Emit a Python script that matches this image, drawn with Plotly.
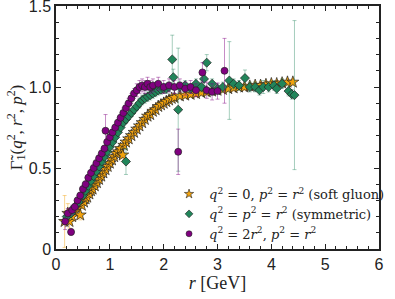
import plotly.graph_objects as go

# ---- Data ----
soft_r = [0.16, 0.22, 0.25, 0.30, 0.35, 0.40, 0.45, 0.48, 0.52, 0.55, 0.58, 0.62, 0.65, 0.68,
          0.72, 0.76, 0.80, 0.84, 0.88, 0.92, 0.96, 1.00, 1.04, 1.08, 1.12, 1.16, 1.20, 1.24,
          1.26, 1.30, 1.35, 1.40, 1.45, 1.50, 1.55, 1.60, 1.65, 1.70, 1.75, 1.80, 1.85, 1.90,
          1.95, 2.00, 2.05, 2.10, 2.15, 2.20, 2.30, 2.40, 2.50, 2.60, 2.70, 2.80, 2.90, 3.00,
          3.10, 3.20, 3.30, 3.40, 3.50, 3.60, 3.70, 3.80, 3.90, 4.00, 4.10, 4.20, 4.30, 4.40]
soft_v = [0.17, 0.22, 0.17, 0.20, 0.23, 0.25, 0.21, 0.27, 0.29, 0.31, 0.32, 0.34, 0.36, 0.37,
          0.39, 0.41, 0.43, 0.45, 0.47, 0.49, 0.51, 0.53, 0.55, 0.57, 0.59, 0.60, 0.62, 0.58,
          0.64, 0.66, 0.68, 0.70, 0.72, 0.74, 0.76, 0.78, 0.80, 0.82, 0.83, 0.85, 0.86, 0.88,
          0.89, 0.90, 0.91, 0.92, 0.93, 0.935, 0.945, 0.95, 0.955, 0.96, 0.965, 0.97, 0.975, 0.98,
          0.985, 0.99, 0.995, 1.00, 1.00, 1.005, 1.01, 1.01, 1.015, 1.02, 1.02, 1.025, 1.03, 1.03]
soft_e = [0.16, 0.06, 0.04, 0.03, 0.03, 0.02, 0.03, 0.02, 0.02, 0.02, 0.02, 0.02, 0.02, 0.02,
          0.02, 0.02, 0.02, 0.02, 0.02, 0.02, 0.02, 0.02, 0.02, 0.02, 0.02, 0.02, 0.02, 0.04,
          0.02, 0.02, 0.02, 0.02, 0.02, 0.02, 0.02, 0.02, 0.02, 0.02, 0.02, 0.02, 0.02, 0.02,
          0.02, 0.02, 0.02, 0.02, 0.02, 0.02, 0.02, 0.02, 0.02, 0.02, 0.02, 0.02, 0.02, 0.02,
          0.02, 0.02, 0.02, 0.02, 0.02, 0.02, 0.02, 0.02, 0.02, 0.02, 0.02, 0.02, 0.02, 0.02]

sym_r = [0.20, 0.28, 0.35, 0.42, 0.50, 0.55, 0.60, 0.65, 0.70, 0.75, 0.80, 0.85, 0.90, 0.95,
         1.00, 1.05, 1.10, 1.15, 1.20, 1.25, 1.30, 1.30, 1.35, 1.40, 1.45, 1.50, 1.55, 1.60,
         1.65, 1.70, 1.75, 1.80, 1.85, 1.90, 1.95, 2.00, 2.05, 2.10, 2.16, 2.18, 2.27, 2.30,
         2.40, 2.50, 2.60, 2.70, 2.75, 2.80, 2.90, 3.00, 3.10, 3.22, 3.30, 3.40, 3.51, 3.60,
         3.70, 3.78, 3.85, 3.95, 4.05, 4.10, 4.20, 4.32, 4.38, 4.43]
sym_v = [0.20, 0.22, 0.26, 0.29, 0.33, 0.36, 0.39, 0.42, 0.45, 0.48, 0.51, 0.54, 0.57, 0.60,
         0.63, 0.66, 0.69, 0.72, 0.75, 0.78, 0.54, 0.80, 0.82, 0.84, 0.86, 0.88, 0.90, 0.92,
         0.93, 0.94, 0.95, 0.96, 0.97, 0.98, 0.985, 0.99, 0.99, 1.00, 1.17, 1.06, 0.86, 1.00,
         1.01, 0.99, 1.02, 1.00, 1.05, 1.15, 1.02, 0.99, 1.00, 1.04, 1.02, 1.01, 1.055, 1.00,
         1.00, 0.98, 1.00, 1.00, 1.01, 0.99, 1.02, 0.975, 0.955, 0.95]
sym_e = [0.03, 0.03, 0.02, 0.02, 0.02, 0.02, 0.02, 0.02, 0.02, 0.02, 0.02, 0.02, 0.02, 0.02,
         0.02, 0.02, 0.02, 0.02, 0.02, 0.02, 0.08, 0.02, 0.02, 0.02, 0.02, 0.02, 0.03, 0.03,
         0.03, 0.03, 0.03, 0.03, 0.03, 0.03, 0.03, 0.03, 0.03, 0.03, 0.15, 0.05, 0.38, 0.03,
         0.03, 0.03, 0.03, 0.03, 0.04, 0.05, 0.03, 0.03, 0.03, 0.24, 0.03, 0.03, 0.05, 0.03,
         0.03, 0.03, 0.04, 0.03, 0.03, 0.03, 0.03, 0.03, 0.03, 0.46]

asym_r = [0.17, 0.22, 0.28, 0.30, 0.35, 0.40, 0.45, 0.50, 0.55, 0.60, 0.65, 0.70, 0.75, 0.80,
          0.85, 0.90, 0.92, 0.95, 1.00, 1.05, 1.10, 1.15, 1.20, 1.25, 1.30, 1.35, 1.40, 1.45,
          1.50, 1.55, 1.60, 1.65, 1.70, 1.75, 1.80, 1.90, 2.00, 2.10, 2.20, 2.27, 2.30, 2.40,
          2.50, 2.60, 2.72, 2.80, 2.90, 3.00, 3.13]
asym_v = [0.17, 0.22, 0.105, 0.24, 0.26, 0.30, 0.33, 0.37, 0.40, 0.44, 0.47, 0.50, 0.53, 0.56,
          0.59, 0.62, 0.73, 0.66, 0.69, 0.72, 0.75, 0.78, 0.81, 0.84, 0.87, 0.90, 0.93, 0.96,
          0.98, 1.00, 1.01, 1.00, 1.02, 1.00, 1.01, 1.02, 1.00, 1.01, 1.00, 0.60, 1.01, 0.99,
          1.00, 0.98, 1.09, 0.98, 0.97, 0.975, 1.10]
asym_e = [0.05, 0.03, 0.02, 0.03, 0.02, 0.02, 0.02, 0.02, 0.02, 0.02, 0.02, 0.02, 0.02, 0.02,
          0.02, 0.02, 0.10, 0.02, 0.02, 0.02, 0.02, 0.02, 0.02, 0.03, 0.03, 0.03, 0.03, 0.03,
          0.04, 0.04, 0.04, 0.04, 0.04, 0.04, 0.04, 0.04, 0.04, 0.04, 0.04, 0.14, 0.04, 0.04,
          0.04, 0.04, 0.06, 0.05, 0.05, 0.05, 0.20]

x_ticks = [0, 1, 2, 3, 4, 5, 6]
y_ticks = [0, 0.5, 1.0, 1.5]
y_ticktext = ["0", "0.5", "1.0", "1.5"]

names = [
    "<i>q</i><sup>2</sup> = 0, <i>p</i><sup>2</sup> = <i>r</i><sup>2</sup> (soft gluon)",
    "<i>q</i><sup>2</sup> = <i>p</i><sup>2</sup> = <i>r</i><sup>2</sup> (symmetric)",
    "<i>q</i><sup>2</sup> = 2<i>r</i><sup>2</sup>, <i>p</i><sup>2</sup> = <i>r</i><sup>2</sup>",
]

ORANGE = "#F2A20D"
GREEN = "#21855A"
PURPLE = "#800080"

fig = go.Figure()
series = [
    (soft_r, soft_v, soft_e, "star", 9, ORANGE, "rgba(242,162,13,0.45)"),
    (sym_r, sym_v, sym_e, "diamond", 7, GREEN, "rgba(33,133,90,0.4)"),
    (asym_r, asym_v, asym_e, "circle", 7, PURPLE, "rgba(128,0,128,0.45)"),
]
for (xr, yv, ye, sym, sz, col, ecol) in series:
    fig.add_trace(go.Scatter(
        x=xr, y=yv, mode="markers", showlegend=False,
        error_y=dict(type="data", array=ye, color=ecol, thickness=1, width=2),
        marker=dict(symbol=sym, size=sz, color=col, line=dict(color="#222", width=0.7)),
    ))
# legend entries (small symbols as in the reference)
for (xr, yv, ye, sym, sz, col, ecol), nm in zip(series, names):
    fig.add_trace(go.Scatter(
        x=[None], y=[None], mode="markers", name=nm,
        marker=dict(symbol=sym, size=6 if sym != "star" else 7, color=col, line=dict(color="#222", width=0.6)),
    ))

axis_common = dict(
    showline=True, linecolor="#222", linewidth=1.5, mirror="allticks",
    ticks="inside", ticklen=5, tickcolor="#222", tickwidth=1,
    showgrid=False, zeroline=False, automargin=False, ticklabeloverflow="allow",
    tickfont=dict(family="Liberation Sans, Arial, sans-serif", size=16, color="#222"),
)

fig.update_xaxes(
    range=[0, 6], tickmode="array", tickvals=x_ticks,
    minor=dict(ticks="inside", dtick=0.2, ticklen=3, tickcolor="#222", showgrid=False),
    title=dict(text="<i>r</i> [GeV]", font=dict(family="Liberation Serif, serif", size=18, color="#222"), standoff=4),
    **axis_common,
)
fig.update_yaxes(
    range=[0, 1.5], tickmode="array", tickvals=y_ticks, ticktext=y_ticktext,
    minor=dict(ticks="inside", dtick=0.1, ticklen=3, tickcolor="#222", showgrid=False),
    title=dict(text="\u0393\u0303<sub>1</sub>(<i>q</i><sup>2</sup>, <i>r</i><sup>2</sup>, <i>p</i><sup>2</sup>)",
               font=dict(family="Liberation Serif, serif", size=17, color="#222"), standoff=2),
    **axis_common,
)

fig.update_layout(
    width=395, height=299,
    margin=dict(l=56, r=5, t=6, b=50),
    plot_bgcolor="white", paper_bgcolor="white",
    showlegend=True,
    legend=dict(x=0.35, y=0.0, xanchor="left", yanchor="bottom",
                bgcolor="rgba(0,0,0,0)", borderwidth=0,
                font=dict(family="DejaVu Serif, serif", size=13, color="#222"),
                tracegroupgap=0, itemwidth=30),
)

# remove the default 8 px page margin so the figure fills the 395x299 window
fig.write_html("out.html", config={"displayModeBar": False},
               post_script="document.body.style.margin='0px';")
